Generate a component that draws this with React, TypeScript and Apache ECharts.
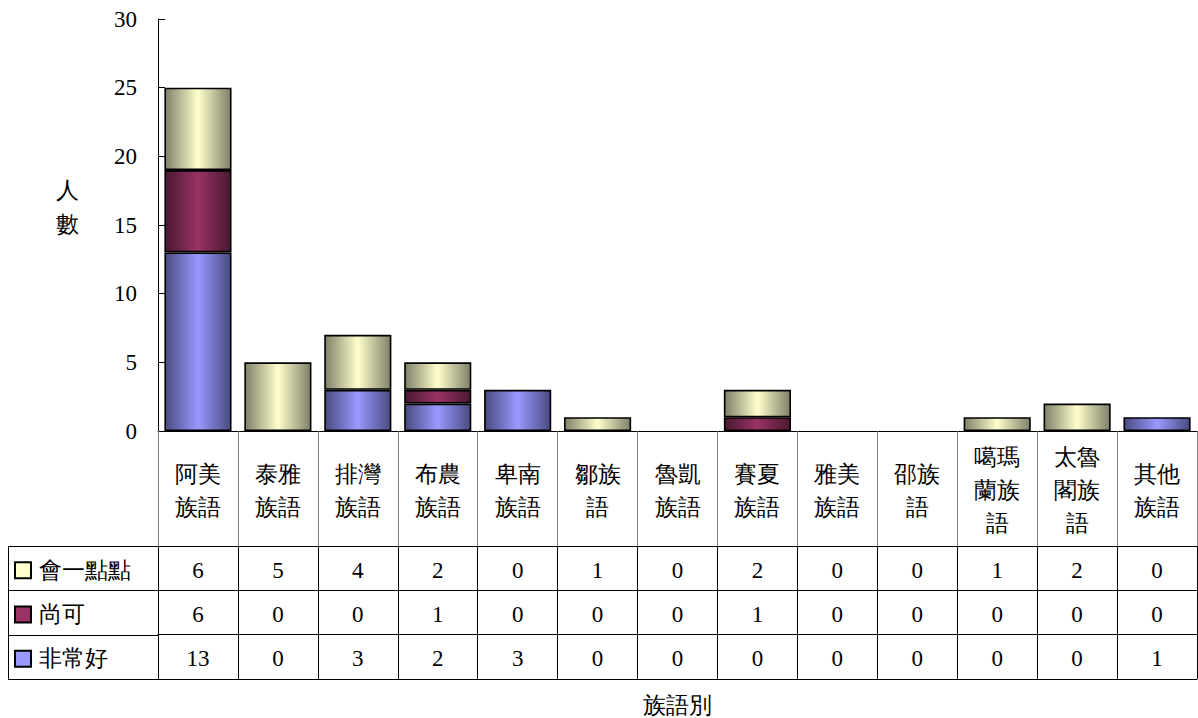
import React, { useEffect, useRef } from "react";
import * as echarts from "echarts";

const categories = [
  "阿美\n族語", "泰雅\n族語", "排灣\n族語", "布農\n族語", "卑南\n族語", "鄒族\n語",
  "魯凱\n族語", "賽夏\n族語", "雅美\n族語", "邵族\n語", "噶瑪\n蘭族\n語", "太魯\n閣族\n語", "其他\n族語",
];
const seriesNames = ["會一點點", "尚可", "非常好"];
const aLittle = [6, 5, 4, 2, 0, 1, 0, 2, 0, 0, 1, 2, 0];
const fair = [6, 0, 0, 1, 0, 0, 0, 1, 0, 0, 0, 0, 0];
const veryGood = [13, 0, 3, 2, 3, 0, 0, 0, 0, 0, 0, 0, 1];
const rows = [aLittle, fair, veryGood];
const lightColors = ["#FFFFCC", "#993366", "#9999FF"];
const darkColors = ["#80806A", "#4A1830", "#4A4A80"];
const yMin = 0;
const yMax = 30;
const yInterval = 5;
const yTitle = "人\n數";
const xTitle = "族語別";

const FONT = "Liberation Serif";

export default function App() {
  const ref = useRef<HTMLDivElement>(null);
  useEffect(() => {
    if (!ref.current) return;
    const chart = echarts.init(ref.current, undefined, { renderer: "svg" });
    const gridLeft = 158;
    const gridTop = 19;
    const gridBottom = 287;
    const axisY = 718 - gridBottom;
    const labelRowH = 115;
    const rowH = 44.3;

    const grad = (i: number) =>
      new echarts.graphic.LinearGradient(0, 0, 1, 0, [
        { offset: 0, color: darkColors[i] },
        { offset: 0.5, color: lightColors[i] },
        { offset: 1, color: darkColors[i] },
      ]);

    const rowAxes = rows.map((_vals, i) => ({
      type: "category",
      data: categories,
      position: "bottom",
      offset: labelRowH + rowH * i,
      axisLine: { show: true, lineStyle: { color: "#000", width: 1 } },
      axisTick: { show: true, length: rowH, lineStyle: { color: "#000", width: 1 } },
      axisLabel: { show: false },
      splitLine: { show: false },
    }));

    const graphics: any[] = [];
    for (let i = 0; i <= rows.length; i++) {
      const y = Math.round(axisY + labelRowH + rowH * i) + 0.5;
      graphics.push({
        type: "line",
        shape: { x1: 8, y1: y, x2: gridLeft, y2: y },
        style: { stroke: "#000", lineWidth: 1 },
      });
    }
    graphics.push({
      type: "line",
      shape: { x1: 8.5, y1: axisY + labelRowH, x2: 8.5, y2: axisY + labelRowH + rowH * rows.length },
      style: { stroke: "#000", lineWidth: 1 },
    });
    seriesNames.forEach((name, i) => {
      const cy = axisY + labelRowH + rowH * i + rowH / 2 + 2;
      graphics.push({
        type: "rect",
        shape: { x: 15, y: cy - 8, width: 16, height: 16 },
        style: { fill: lightColors[i], stroke: "#000", lineWidth: 2 },
      });
      graphics.push({
        type: "text",
        x: 39,
        y: cy,
        style: {
          text: name,
          fontSize: 23,
          fontWeight: 300,
          fontFamily: FONT,
          fill: "#000",
          verticalAlign: "middle",
        },
      });
    });
    graphics.push({
      type: "text",
      x: 67,
      y: 207,
      style: {
        text: yTitle,
        fontSize: 23,
        fontWeight: 300,
        fontFamily: FONT,
        fill: "#000",
        align: "center",
        verticalAlign: "middle",
        lineHeight: 34,
      },
    });
    graphics.push({
      type: "text",
      x: (gridLeft + 1197) / 2,
      y: 705,
      style: {
        text: xTitle,
        fontSize: 23,
        fontWeight: 300,
        fontFamily: FONT,
        fill: "#000",
        align: "center",
        verticalAlign: "middle",
      },
    });

    const stackOrder = [2, 1, 0];
    chart.setOption({
      animation: false,
      grid: { left: gridLeft, right: 1, top: gridTop, bottom: gridBottom, containLabel: false },
      xAxis: [
        {
          type: "category",
          data: categories,
          position: "bottom",
          axisLine: { show: true, lineStyle: { color: "#000", width: 1 } },
          axisTick: { show: true, length: labelRowH, lineStyle: { color: "#808080", width: 1 } },
          axisLabel: {
            interval: 0,
            margin: labelRowH / 2 + 2,
            verticalAlign: "middle",
            lineHeight: 33,
            fontSize: 23,
            fontWeight: 300,
            fontFamily: FONT,
            color: "#000",
          },
          splitLine: { show: false },
        },
        ...rowAxes,
        {
          type: "category",
          data: categories,
          position: "bottom",
          offset: labelRowH + rowH * rows.length,
          axisLine: { show: true, lineStyle: { color: "#000", width: 1 } },
          axisTick: { show: false },
          axisLabel: { show: false },
        },
      ],
      yAxis: {
        type: "value",
        min: yMin,
        max: yMax,
        interval: yInterval,
        axisLine: { show: true, lineStyle: { color: "#000", width: 1 } },
        axisTick: { show: true, inside: true, length: 7, lineStyle: { color: "#000" } },
        axisLabel: { show: false },
        splitLine: { show: false },
      },
      series: stackOrder.map((i) => ({
        type: "bar",
        name: seriesNames[i],
        stack: "total",
        xAxisIndex: 0,
        yAxisIndex: 0,
        barCategoryGap: "16%",
        data: rows[i].map((v) => (v === 0 ? null : v)),
        itemStyle: { color: grad(i), borderColor: "#000", borderWidth: 1.6 },
      })),
      graphic: graphics,
    });

    // numeric labels placed through the chart's own scales
    const numTexts: any[] = [];
    for (let v = yMin; v <= yMax; v += yInterval) {
      const py = chart.convertToPixel({ yAxisIndex: 0 }, v) as number;
      numTexts.push({
        type: "text",
        x: gridLeft - 21,
        y: py,
        style: {
          text: String(v),
          fontSize: 23,
          fontFamily: FONT,
          fill: "#000",
          align: "right",
          verticalAlign: "middle",
        },
      });
    }
    rows.forEach((vals, i) => {
      const cy = axisY + labelRowH + rowH * i + rowH / 2 + 2;
      vals.forEach((val, idx) => {
        const px = chart.convertToPixel({ xAxisIndex: 0 }, categories[idx]) as number;
        numTexts.push({
          type: "text",
          x: px,
          y: cy,
          style: {
            text: String(val),
            fontSize: 23,
            fontFamily: FONT,
            fill: "#000",
            align: "center",
            verticalAlign: "middle",
          },
        });
      });
    });
    chart.setOption({ graphic: [...graphics, ...numTexts] });

    return () => chart.dispose();
  }, []);
  return (
    <div
      ref={ref}
      style={{ position: "fixed", left: 0, top: 0, width: 1198, height: 718, background: "#fff" }}
    />
  );
}
